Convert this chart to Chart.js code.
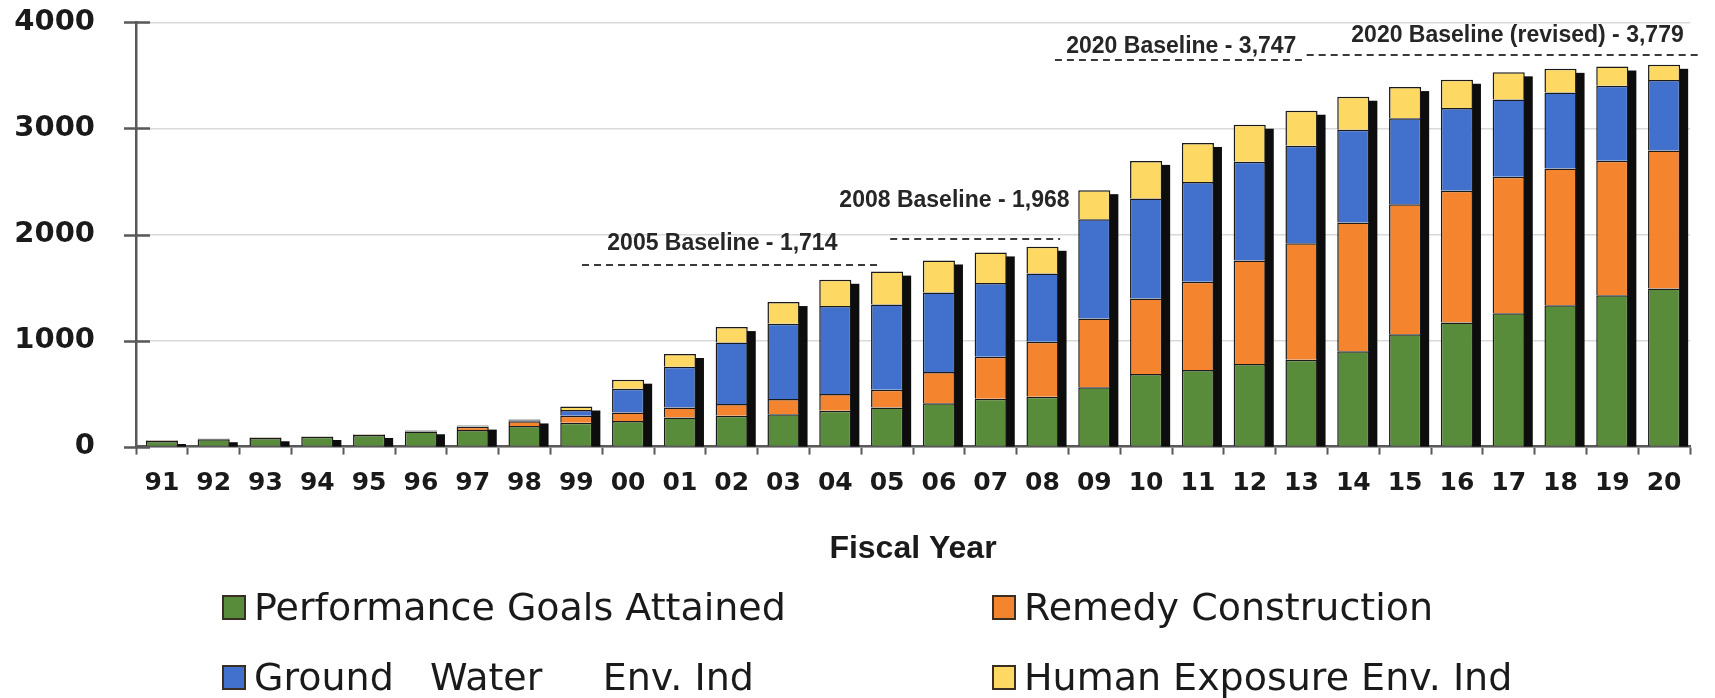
<!DOCTYPE html>
<html>
<head>
<meta charset="utf-8">
<script src="https://cdn.jsdelivr.net/npm/chart.js@4.4.0/dist/chart.umd.min.js"></script>
<style>
html, body { margin: 0; padding: 0; background: #fff; }
#wrap { position: relative; width: 1715px; height: 698px; overflow: hidden; }
#legend .item { position: absolute; display: flex; align-items: center; height: 44px;
  font-family: "DejaVu Sans", sans-serif; font-size: 38px; color: #1a1a1a; white-space: pre; }
#legend .box { width: 24px; height: 25px; box-sizing: border-box; border: 2px solid #3a2e22; margin-right: 8px; }
</style>
</head>
<body>
<div id="wrap">
  <canvas id="fyChart" width="1715" height="698"></canvas>
  <div id="legend"></div>
</div>
<script>
var years = ['91','92','93','94','95','96','97','98','99','00','01','02','03','04','05',
             '06','07','08','09','10','11','12','13','14','15','16','17','18','19','20'];

var goalsAttained = [52, 70, 82, 92, 110, 142, 157, 195, 226, 242, 274, 290, 306, 338, 369,
                     408, 452, 471, 559, 684, 722, 780, 820, 900, 1060, 1170, 1257, 1333, 1427, 1490];
var remedyConstruction = [5, 5, 4, 4, 5, 6, 30, 45, 64, 80, 95, 111, 143, 159, 166,
                          296, 396, 518, 650, 713, 832, 975, 1097, 1212, 1225, 1243, 1287, 1290, 1269, 1301];
var groundWater = [2, 2, 1, 2, 2, 3, 5, 8, 55, 223, 383, 580, 710, 828, 806,
                   748, 695, 644, 935, 942, 942, 930, 919, 876, 812, 779, 729, 717, 706, 667];
var humanExposure = [3, 2, 1, 2, 2, 3, 6, 8, 33, 86, 121, 146, 204, 248, 309,
                     303, 288, 251, 274, 355, 367, 350, 331, 311, 293, 267, 256, 222, 182, 142];

var seriesNames = ['Performance Goals Attained', 'Remedy Construction',
                   'Ground   Water     Env. Ind', 'Human Exposure Env. Ind'];
var seriesColors = ['#598C3A', '#F5842F', '#4171CD', '#FDD862'];

var yTicks = [0, 1000, 2000, 3000, 4000];

// dashed baselines: value, span along the year axis (category index units), label
var baselineText = ['2005 Baseline - 1,714', '2008 Baseline - 1,968',
                    '2020 Baseline - 3,747', '2020 Baseline (revised) - 3,779'];
var baselineValue = [1711, 1962, 3642, 3689];
var baselineFrom = [8.11, 14.06, 17.24, 22.1];
var baselineTo = [13.86, 17.34, 22.1, 29.73];
var baselineTextAt = [10.82, 15.3, 19.68, 26.17];
var baselineTextLevel = [1910, 2316, 3770, 3875];

var shadowPlugin = {
  id: 'barShadow',
  beforeDatasetsDraw: function(chart) {
    var ctx = chart.ctx;
    var ys = chart.scales.y;
    var baseY = ys.getPixelForValue(0);
    var topMeta = chart.getDatasetMeta(chart.data.datasets.length - 1);
    ctx.save();
    ctx.fillStyle = '#0d0d0d';
    topMeta.data.forEach(function(bar) {
      var p = bar.getProps(['x', 'y', 'width'], true);
      var right = p.x + p.width / 2;
      var h = baseY - p.y - 4;
      if (h > 0) ctx.fillRect(right - 1, p.y + 4, 9, h);
    });
    ctx.restore();
  },
  afterDraw: function(chart) {
    // tick marks crossing the value axis
    var ctx = chart.ctx;
    var ys = chart.scales.y;
    var x0 = chart.chartArea.left;
    ctx.save();
    ctx.strokeStyle = '#595959';
    ctx.lineWidth = 2.5;
    yTicks.forEach(function(v) {
      var yy = Math.round(ys.getPixelForValue(v)) + 0.5;
      ctx.beginPath();
      ctx.moveTo(x0 - 12, yy);
      ctx.lineTo(x0 + 14, yy);
      ctx.stroke();
    });
    ctx.restore();
  }
};

var baselinePlugin = {
  id: 'baselines',
  afterDatasetsDraw: function(chart) {
    var ctx = chart.ctx;
    var xs = chart.scales.x;
    var ys = chart.scales.y;
    ctx.save();
    ctx.strokeStyle = '#3a3a3a';
    ctx.lineWidth = 2;
    ctx.setLineDash([7, 5]);
    for (var i = 0; i < baselineValue.length; i++) {
      var yy = Math.round(ys.getPixelForValue(baselineValue[i]));
      ctx.beginPath();
      ctx.moveTo(xs.getPixelForValue(baselineFrom[i]), yy);
      ctx.lineTo(xs.getPixelForValue(baselineTo[i]), yy);
      ctx.stroke();
    }
    ctx.setLineDash([]);
    ctx.font = 'bold 23px "Liberation Sans", sans-serif';
    ctx.fillStyle = '#262626';
    ctx.textAlign = 'center';
    ctx.textBaseline = 'middle';
    for (var j = 0; j < baselineText.length; j++) {
      ctx.fillText(baselineText[j], xs.getPixelForValue(baselineTextAt[j]),
                   ys.getPixelForValue(baselineTextLevel[j]));
    }
    ctx.restore();
  }
};

var seriesData = [goalsAttained, remedyConstruction, groundWater, humanExposure];
var datasets = [];
for (var k = 0; k < seriesData.length; k++) {
  datasets.push({
    label: seriesNames[k],
    data: seriesData[k],
    backgroundColor: seriesColors[k],
    borderColor: '#1a1a1a',
    borderWidth: 1.5,
    barPercentage: 0.62,
    categoryPercentage: 1.0
  });
}

var ctx = document.getElementById('fyChart').getContext('2d');
window.fy_chart = new Chart(ctx, {
  type: 'bar',
  data: { labels: years, datasets: datasets },
  options: {
    responsive: false,
    animation: false,
    devicePixelRatio: 1,
    layout: { padding: { left: 14, top: 2, right: 25, bottom: 130 } },
    plugins: {
      legend: { display: false },
      tooltip: { enabled: false }
    },
    scales: {
      x: {
        stacked: true,
        grid: { display: true, drawOnChartArea: false, drawTicks: true, tickLength: 8,
                tickColor: '#595959', tickWidth: 2 },
        border: { color: '#595959', width: 2.5 },
        ticks: { font: { family: 'DejaVu Sans', weight: 'bold', size: 25 }, color: '#1a1a1a',
                 padding: 14, maxRotation: 0, autoSkip: false },
        title: { display: true, text: 'Fiscal Year', color: '#1a1a1a',
                 font: { family: 'Liberation Sans', weight: 'bold', size: 32 },
                 padding: { top: 17, bottom: 0 } }
      },
      y: {
        stacked: true,
        min: 0,
        max: 4000,
        ticks: { stepSize: 1000, padding: 5, color: '#1a1a1a',
                 font: { family: 'DejaVu Sans', weight: 'bold', size: 29 },
                 callback: function(v) { return String(v); } },
        grid: { color: '#d9d9d9', lineWidth: 1.5, drawTicks: true, tickLength: 36,
                tickColor: 'rgba(0,0,0,0)' },
        border: { color: '#595959', width: 2.5 },
        afterFit: function(scale) { scale.width = 122; }
      }
    }
  },
  plugins: [shadowPlugin, baselinePlugin]
});

// two-column legend under the axis title
var legendPos = [[222, 585], [992, 585], [222, 655], [992, 655]];
var legendBox = document.getElementById('legend');
window.fy_chart.data.datasets.forEach(function(ds, i) {
  var item = document.createElement('div');
  item.className = 'item';
  item.style.left = legendPos[i][0] + 'px';
  item.style.top = legendPos[i][1] + 'px';
  var box = document.createElement('span');
  box.className = 'box';
  box.style.background = ds.backgroundColor;
  var txt = document.createElement('span');
  txt.textContent = ds.label;
  item.appendChild(box);
  item.appendChild(txt);
  legendBox.appendChild(item);
});
</script>
</body>
</html>
